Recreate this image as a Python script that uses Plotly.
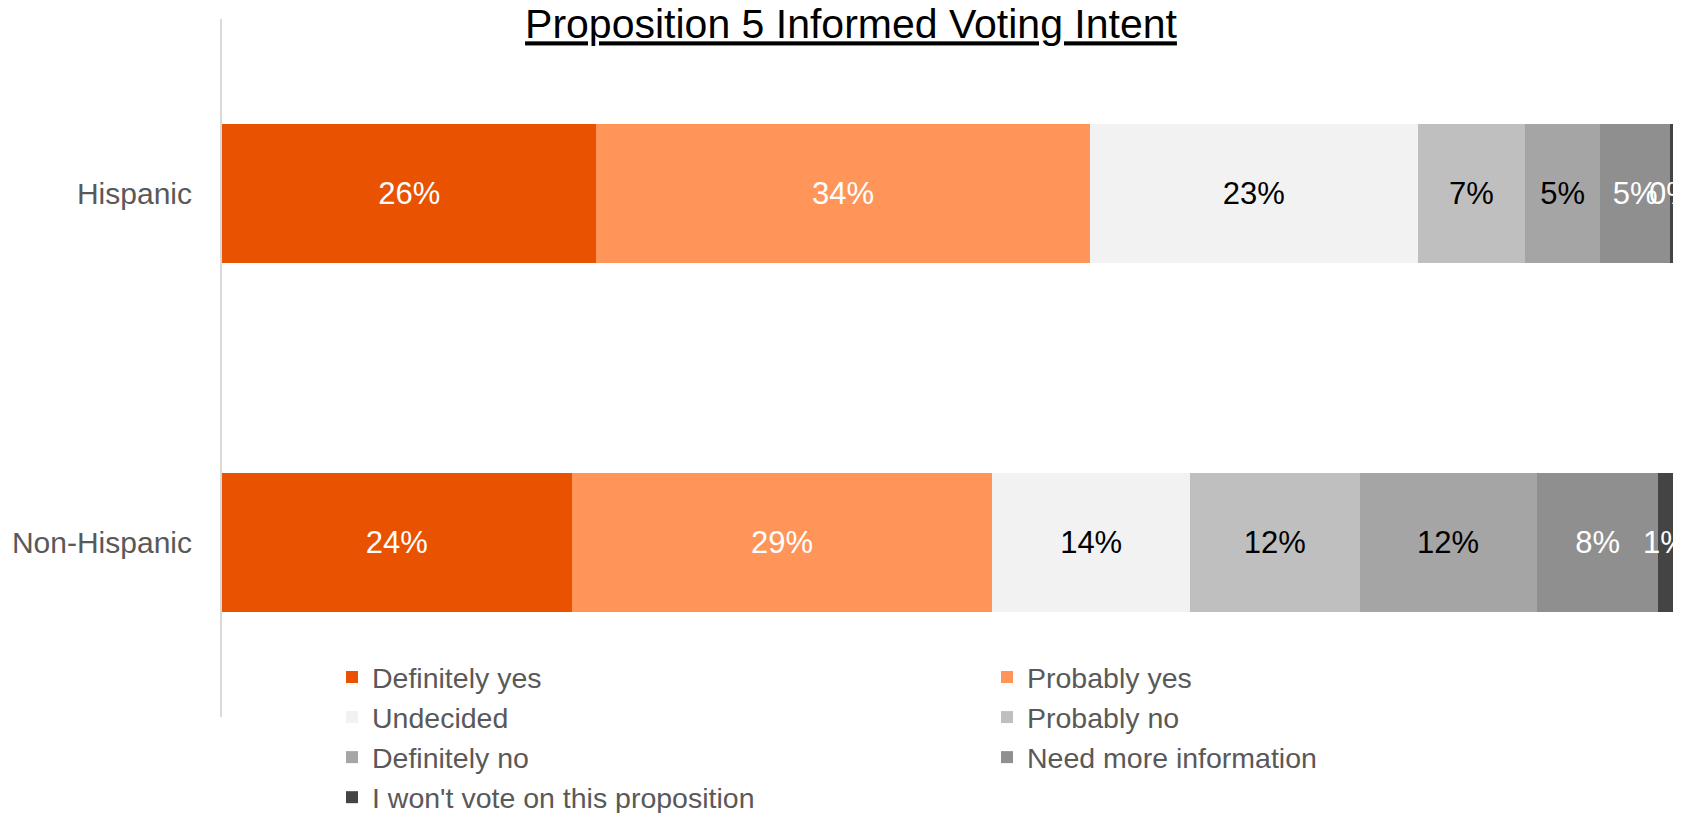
import plotly.graph_objects as go

categories = ["Hispanic", "Non-Hispanic"]
series_names = [
    "Definitely yes",
    "Probably yes",
    "Undecided",
    "Probably no",
    "Definitely no",
    "Need more information",
    "I won't vote on this proposition",
]
# percent values per series: [Hispanic, Non-Hispanic]
definitely_yes = [25.8, 24.1]
probably_yes = [34.0, 29.0]
undecided = [22.6, 13.6]
probably_no = [7.4, 11.7]
definitely_no = [5.2, 12.2]
need_more_info = [4.8, 8.4]
wont_vote = [0.2, 1.0]

series_values = [definitely_yes, probably_yes, undecided, probably_no,
                 definitely_no, need_more_info, wont_vote]
colors = ["#E85200", "#FF9559", "#F2F2F2", "#BFBFBF", "#A5A5A5", "#8F8F8F", "#444444"]
text_colors = ["#FFFFFF", "#FFFFFF", "#000000", "#000000", "#000000", "#FFFFFF", "#FFFFFF"]
legend_ids = ["legend", "legend2", "legend", "legend2", "legend", "legend2", "legend"]

FONT = "Liberation Sans"
W, H = 1682, 813
LABEL_SIZE = 31

fig = go.Figure()
n_series = len(series_names)
for k, (name, vals, col, tcol, lg) in enumerate(zip(series_names, series_values, colors, text_colors, legend_ids)):
    last = (k == n_series - 1)
    fig.add_trace(go.Bar(
        name=name,
        y=categories,
        x=vals,
        orientation="h",
        marker=dict(color=col, line=dict(width=0)),
        texttemplate="%{x:.0f}%",
        # the thin final segment is labelled with annotations below (plotly drops its inside text)
        textposition="none" if last else "inside",
        insidetextanchor="middle",
        textangle=0,
        constraintext="none",
        textfont=dict(family=FONT, size=LABEL_SIZE, color=tcol),
        cliponaxis=False,
        legend=lg,
        hoverinfo="skip",
    ))

# labels centred on the thin last segment, positioned in data coordinates
for ci, cat in enumerate(categories):
    start = sum(v[ci] for v in series_values[:-1])
    val = wont_vote[ci]
    fig.add_annotation(
        x=start + val / 2,
        y=cat,
        xref="x",
        yref="y",
        text=f"{val:.0f}%",
        showarrow=False,
        xanchor="center",
        yanchor="middle",
        font=dict(family=FONT, size=LABEL_SIZE, color=text_colors[-1]),
    )

legend_common = dict(
    orientation="v",
    traceorder="normal",
    font=dict(family=FONT, size=28.5, color="#595959"),
    bgcolor="rgba(0,0,0,0)",
    borderwidth=0,
    xref="container",
    yref="container",
    yanchor="top",
    xanchor="left",
    itemclick=False,
    itemdoubleclick=False,
)

fig.update_layout(
    width=W,
    height=H,
    margin=dict(l=222, r=9, t=19, b=96, autoexpand=False),
    paper_bgcolor="white",
    plot_bgcolor="white",
    barmode="stack",
    bargap=0.6,
    hovermode=False,
    title=dict(
        text="Proposition 5 Informed Voting Intent",
        x=851 / W,
        xanchor="center",
        xref="container",
        y=1 - 24 / H,
        yanchor="middle",
        yref="container",
        font=dict(family=FONT, size=41, color="#000000", lineposition="under"),
    ),
    xaxis=dict(
        range=[0, 100],
        showticklabels=False,
        showgrid=False,
        zeroline=False,
        showline=False,
        fixedrange=True,
    ),
    yaxis=dict(
        autorange="reversed",
        automargin=False,
        showgrid=False,
        zeroline=False,
        showline=True,
        linecolor="#D9D9D9",
        linewidth=2,
        ticks="",
        ticklabelstandoff=22,
        tickfont=dict(family=FONT, size=30, color="#595959"),
        fixedrange=True,
    ),
    legend=dict(legend_common, x=332 / W, y=1 - 652 / H),
    legend2=dict(legend_common, x=987 / W, y=1 - 652 / H),
    showlegend=True,
)

# remove the browser's default 8px body margin so the figure fills the window
fig.write_html(
    "out.html",
    config={"displayModeBar": False},
    post_script="document.body.style.margin='0px';",
)
